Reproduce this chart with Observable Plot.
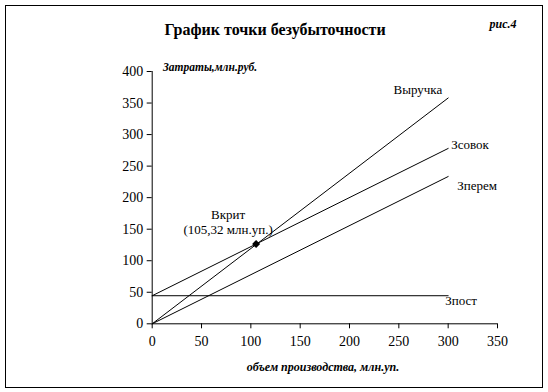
<!DOCTYPE html>
<html>
<head>
<meta charset="utf-8">
<script src="https://cdn.jsdelivr.net/npm/d3@7"></script>
<script src="https://cdn.jsdelivr.net/npm/@observablehq/plot@0.6"></script>
<style>
  html, body { margin: 0; padding: 0; background: #fff; }
  #wrap { position: relative; width: 548px; height: 392px; font-family: "Liberation Serif", serif; color: #000; }
  #frame { position: absolute; left: 5px; top: 5px; width: 536px; height: 381px; border: 1px solid #000; pointer-events: none; }
  .t { position: absolute; white-space: nowrap; transform: translate(-50%, -50%); font-family: "Liberation Serif", serif; }
  #title { left: 275px; top: 30px; font-size: 16px; font-weight: bold; }
  #fig { left: 503px; top: 24px; font-size: 12px; font-weight: bold; font-style: italic; }
  #ylab { left: 210px; top: 67px; font-size: 11.5px; font-weight: bold; font-style: italic; }
  #xlab { left: 323px; top: 367px; font-size: 12px; font-weight: bold; font-style: italic; }
  #chart svg { position: absolute; left: 0; top: 0; font-family: "Liberation Serif", serif !important; }
  #chart svg text { font-family: "Liberation Serif", serif !important; }
</style>
</head>
<body>
<div id="wrap">
  <div id="chart"></div>
  <div id="frame"></div>
  <div class="t" id="title"></div>
  <div class="t" id="fig"></div>
  <div class="t" id="ylab"></div>
  <div class="t" id="xlab"></div>
</div>
<script>
// ---- data ----
const titleText = "График точки безубыточности";
const figText = "рис.4";
const yLabel = "Затраты,млн.руб.";
const xLabel = "объем производства, млн.уп.";

const volume = [0, 300];            // объем производства, млн.уп.
const revenue = [0, 358];           // Выручка
const totalCost = [44.5, 278];      // Зсовок
const variableCost = [0, 233.5];    // Зперем
const fixedCost = [44.5, 44.5];     // Зпост

const seriesNames = ["Выручка", "Зсовок", "Зперем", "Зпост"];

const breakEvenX = [105.32];
const breakEvenY = [126.5];
const breakEvenLabel = ["Вкрит", "(105,32 млн.уп.)"];

const xTicks = [0, 50, 100, 150, 200, 250, 300, 350];
const yTicks = [0, 50, 100, 150, 200, 250, 300, 350, 400];

// ---- build tables ----
const seriesValues = [revenue, totalCost, variableCost, fixedCost];
const lines = seriesNames.flatMap((name, i) =>
  volume.map((v, j) => ({series: name, x: v, y: seriesValues[i][j]})));
const ends = seriesNames.map((name, i) => ({series: name, x: volume[volume.length - 1], y: seriesValues[i][volume.length - 1]}));
const be = breakEvenX.map((x, i) => ({x, y: breakEvenY[i]}));

const labelStyle = {
  "Выручка": {dx: -6, dy: -8, textAnchor: "end"},
  "Зсовок": {dx: 3, dy: -4, textAnchor: "start"},
  "Зперем": {dx: 9, dy: 9, textAnchor: "start"},
  "Зпост": {dx: -3, dy: 5, textAnchor: "start"}
};

const font = "'Liberation Serif', serif";

const chart = Plot.plot({
  width: 548,
  height: 392,
  marginLeft: 151.7,
  marginRight: 51,
  marginTop: 71,
  marginBottom: 68.7,
  style: {fontFamily: font, fontSize: "14px", color: "#000", background: "transparent", overflow: "visible"},
  x: {domain: [0, 350]},
  y: {domain: [0, 400]},
  marks: [
    Plot.axisX({ticks: xTicks, tickSize: 5, tickPadding: 7, label: null, fontSize: 14, fontFamily: font, stroke: "#000", fill: "#000"}),
    Plot.axisY({ticks: yTicks, tickSize: 5, tickPadding: 4, label: null, fontSize: 14, fontFamily: font, stroke: "#000", fill: "#000"}),
    Plot.ruleX([0], {y1: 0, y2: 400, stroke: "#000"}),
    Plot.ruleY([0], {x1: 0, x2: 350, stroke: "#000"}),
    Plot.line(lines, {x: "x", y: "y", z: "series", stroke: "#000", strokeWidth: 1}),
    ...ends.map(d => Plot.text([d], {
      x: "x", y: "y", text: "series", fontSize: 13, fontFamily: font, fill: "#000",
      dx: labelStyle[d.series].dx, dy: labelStyle[d.series].dy, textAnchor: labelStyle[d.series].textAnchor
    })),
    Plot.dot(be, {x: "x", y: "y", symbol: "diamond2", r: 3.6, fill: "#000", stroke: "none"}),
    Plot.text(be, {x: "x", y: "y", text: () => breakEvenLabel[0], fontSize: 13, fontFamily: font, fill: "#000", dx: -28, dy: -29}),
    Plot.text(be, {x: "x", y: "y", text: () => breakEvenLabel[1], fontSize: 13, fontFamily: font, fill: "#000", dx: -28, dy: -14})
  ]
});
document.getElementById("chart").appendChild(chart);
document.getElementById("title").textContent = titleText;
document.getElementById("fig").textContent = figText;
document.getElementById("ylab").textContent = yLabel;
document.getElementById("xlab").textContent = xLabel;
</script>
</body>
</html>
